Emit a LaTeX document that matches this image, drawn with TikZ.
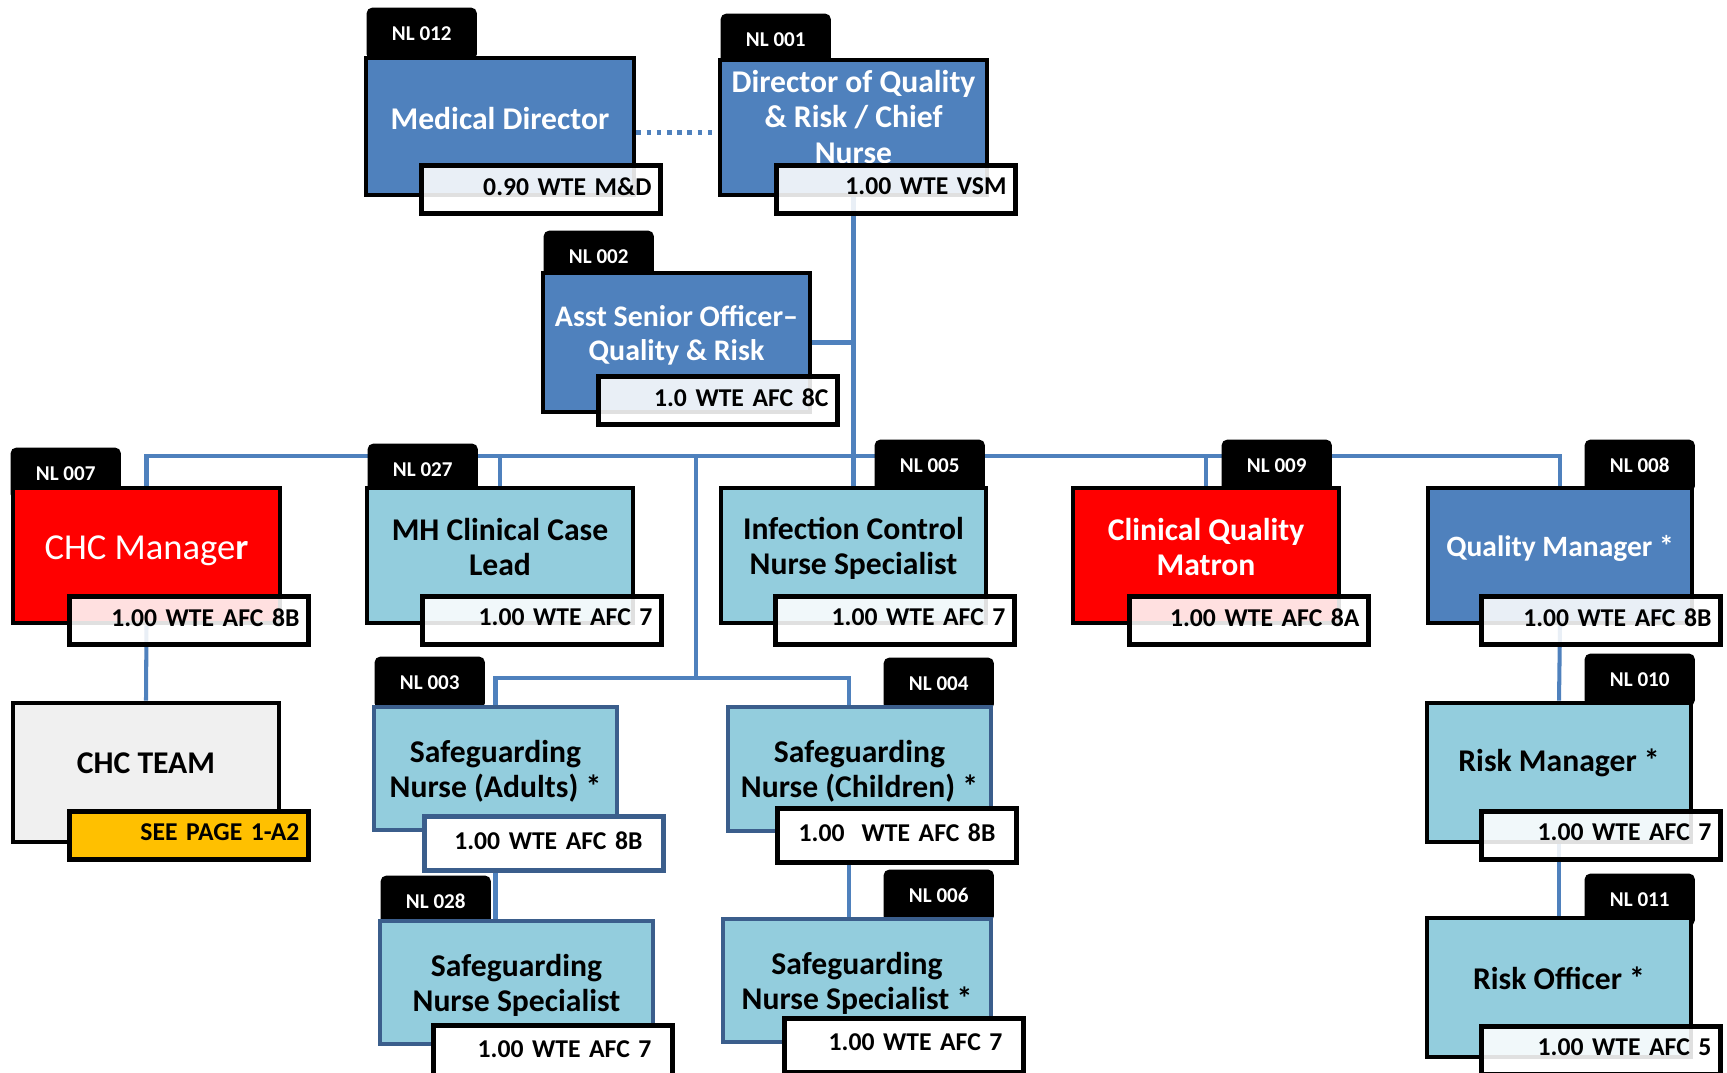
\documentclass[tikz,border=0pt]{standalone}
\usepackage{fontspec}
\setmainfont{Carlito}
\usetikzlibrary{fit,backgrounds}
\definecolor{linkblue}{HTML}{4F81BD}
\definecolor{midblue}{HTML}{4F81BD}
\definecolor{paleblue}{HTML}{93CDDD}
\definecolor{alertred}{HTML}{FF0000}
\definecolor{teamgray}{HTML}{F0F0F0}
\definecolor{gold}{HTML}{FFC000}
\definecolor{sgline}{HTML}{3B5E8C}
\begin{document}
\begin{tikzpicture}[x=0.01cm, y=-0.01cm,
    post/.style={draw=black, line width=1.4pt, inner sep=0pt},
    sgpost/.style={post, draw=sgline},
    tab/.style={fill=black, text=white, rounded corners=1.5pt, inner sep=0pt, anchor=north west,
        minimum width=1.1cm, minimum height=0.52cm, font=\fontsize{6}{7}\selectfont\bfseries},
    title/.style={align=center, inner sep=0pt, font=\fontsize{9}{10}\selectfont\bfseries},
    wte/.style={draw=black, line width=1.4pt, fill=white, fill opacity=0.88, text opacity=1,
        anchor=north west, minimum height=0.48cm, inner ysep=0pt, inner xsep=2.6pt,
        text width=62.8pt, text depth=1.8pt, align=right, font=\fontsize{7.3}{9}\selectfont\bfseries},
    sgwte/.style={wte, fill opacity=1, minimum height=0.54cm, inner xsep=6pt, text width=56pt},
    link/.style={draw=linkblue, line width=1.15pt}]
\useasboundingbox (0,0) rectangle (1727,1073);
% NL tabs
\foreach \n/\a/\b/\t in {t012/366/7/NL 012, t001/720/13/NL 001, t002/543/230/NL 002,
    t007/10/447/NL 007, t027/367/443/NL 027, t005/874/439/NL 005, t009/1221/439/NL 009,
    t008/1584/439/NL 008, t003/374/656/NL 003, t004/883/657/NL 004, t010/1584/653/NL 010,
    t028/380/875/NL 028, t006/883/869/NL 006, t011/1584/873/NL 011}
    { \node[tab] (\n) at (\a,\b) {\t}; }
% posts
\node[post, fill=midblue, fit={(366,58) (634,195)}] (md) {};
\node[post, fill=midblue, fit={(720,60) (987,195)}] (dir) {};
\node[post, fill=midblue, fit={(543,273) (810,412)}] (asq) {};
\node[post, fill=alertred, fit={(13,488) (280,623)}] (chc) {};
\node[post, fill=paleblue, fit={(367,488) (633,623)}] (mh) {};
\node[post, fill=paleblue, fit={(721,488) (986,623)}] (ic) {};
\node[post, fill=alertred, fit={(1073,488) (1339,623)}] (cqm) {};
\node[post, fill=midblue, fit={(1428,488) (1692,623)}] (qm) {};
\node[post, fill=teamgray, fit={(13,703) (279,842)}] (team) {};
\node[sgpost, fill=paleblue, fit={(374,707) (617,830)}] (sna) {};
\node[sgpost, fill=paleblue, fit={(728,707) (991,831)}] (snc) {};
\node[post, fill=paleblue, fit={(1427,703) (1691,842)}] (rm) {};
\node[sgpost, fill=paleblue, fit={(380,921) (653,1044)}] (snsa) {};
\node[sgpost, fill=paleblue, fit={(723,919) (991,1042)}] (snsc) {};
\node[post, fill=paleblue, fit={(1427,918) (1691,1057)}] (ro) {};
% titles
\node[title, text=white] (md-t) at ([yshift=2.4pt]md.center) {Medical Director};
\node[title, text=white] (dir-t) at ([yshift=3pt]dir.center) {Director of Quality\\\& Risk / Chief\\Nurse};
\node[title, text=white, font=\fontsize{8.5}{9.6}\selectfont\bfseries] (asq-t) at ([yshift=2.1pt]asq.center) {Asst Senior Officer--\\Quality \& Risk};
\node[title, text=white, font=\fontsize{10.4}{12}\selectfont] (chc-t) at ([yshift=1.3pt]chc.center) {CHC Manage\textbf{r}};
\node[title] (mh-t) at ([yshift=2.4pt]mh.center) {MH Clinical Case\\Lead};
\node[title] (ic-t) at ([yshift=2.1pt]ic.center) {Infection Control\\Nurse Specialist};
\node[title, text=white] (cqm-t) at ([yshift=2.3pt]cqm.center) {Clinical Quality\\Matron};
\node[title, text=white, font=\fontsize{8.4}{10}\selectfont\bfseries] (qm-t) at ([yshift=2.1pt]qm.center) {Quality Manager *};
\node[title] (team-t) at ([yshift=2.7pt]team.center) {CHC TEAM};
\node[title] (sna-t) at ([yshift=-0.9pt]sna.center) {Safeguarding\\Nurse (Adults) *};
\node[title] (snc-t) at ([yshift=-0.7pt]snc.center) {Safeguarding\\Nurse (Children) *};
\node[title] (rm-t) at ([yshift=2.7pt]rm.center) {Risk Manager *};
\node[title] (snsa-t) at ([yshift=-0.8pt]snsa.center) {Safeguarding\\Nurse Specialist};
\node[title] (snsc-t) at ([yshift=-0.9pt]snsc.center) {Safeguarding\\Nurse Specialist *};
\node[title] (ro-t) at ([yshift=2.7pt]ro.center) {Risk Officer *};
% WTE strips
\node[wte] (md-w) at (419,163) {0.90 WTE M\&D};
\node[wte] (dir-w) at (774,163) {1.00 WTE VSM};
\node[wte] (asq-w) at (596,374) {1.0 WTE AFC 8C};
\node[wte] (chc-w) at (67,594) {1.00 WTE AFC 8B};
\node[wte] (mh-w) at (420,594) {1.00 WTE AFC 7};
\node[wte] (ic-w) at (773,594) {1.00 WTE AFC 7};
\node[wte] (cqm-w) at (1127,594) {1.00 WTE AFC 8A};
\node[wte] (qm-w) at (1479,594) {1.00 WTE AFC 8B};
\node[wte, fill=gold, fill opacity=1] (team-w) at (67,809) {SEE PAGE 1-A2};
\node[sgwte, draw=sgline] (sna-w) at (422,814) {1.00 WTE AFC 8B};
\node[sgwte, inner xsep=3pt, text width=62pt, align=center] (snc-w) at (775,806) {1.00~ WTE AFC 8B};
\node[wte] (rm-w) at (1479,809) {1.00 WTE AFC 7};
\node[sgwte] (snsa-w) at (431,1023) {1.00 WTE AFC 7};
\node[sgwte] (snsc-w) at (782,1016) {1.00 WTE AFC 7};
\node[wte] (ro-w) at (1479,1024) {1.00 WTE AFC 5};
% lines
\coordinate (bar) at (0,456);
\coordinate (sgbar) at (696,678);
\coordinate (snx) at (849,0);
\begin{scope}[on background layer]
    \draw[link, line width=1.4pt, dash pattern=on 1.3pt off 1.6pt] ([yshift=-1.8pt]md.east) coordinate (dl) -- (dl -| dir.west);
    \draw[link] (dir.south) -- (ic.north);
    \draw[link] (asq.east) -- (asq.east -| dir.south);
    \draw[link] (chc.north) -- (chc.north |- bar) -- (qm.north |- bar) -- (qm.north);
    \foreach \n in {mh,cqm} { \draw[link] (\n.north) -- (\n.north |- bar); }
    \draw[link] (sgbar |- bar) -- (sgbar);
    \draw[link] (sna.north) -- (sna.north |- sgbar) -- (snx |- sgbar) -- (snx |- snc.north);
    \draw[link] (chc.south) -- (team.north);
    \draw[link] (sna.south) -- (sna.south |- snsa.north);
    \draw[link] (snx |- snc-w.south) -- (snx |- snsc.north);
    \draw[link] (qm.south) -- (rm.north);
    \draw[link] (rm.south) -- (ro.north);
\end{scope}
\end{tikzpicture}
\end{document}
